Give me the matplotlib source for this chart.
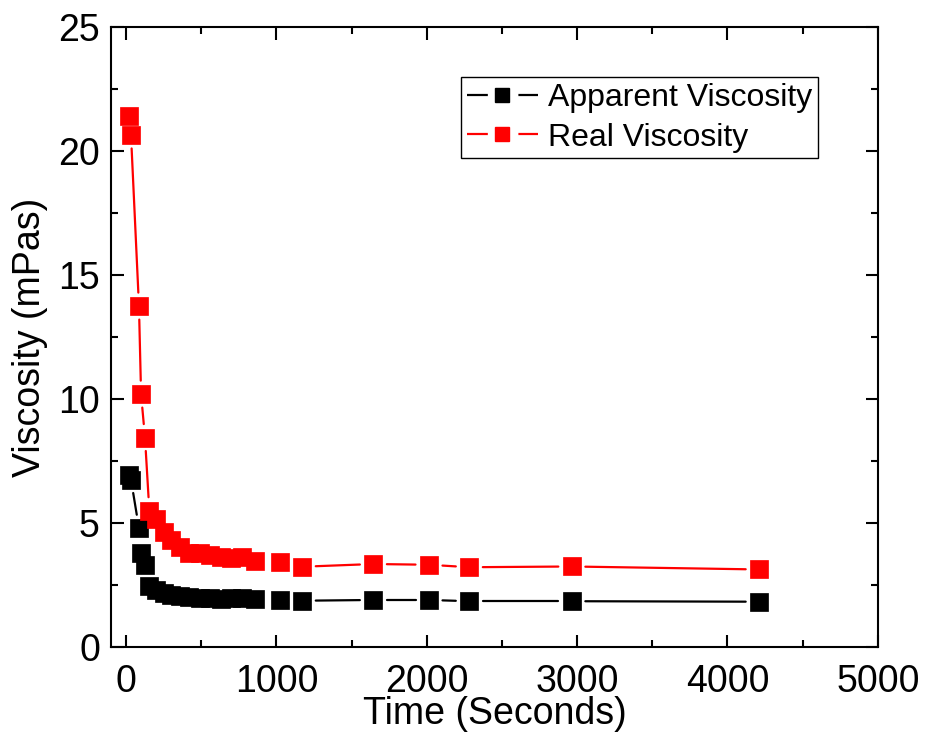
import numpy as np
from matplotlib import pyplot as plt
from matplotlib.lines import Line2D
from matplotlib.ticker import MultipleLocator

plt.rcParams['font.family'] = ['Liberation Sans', 'DejaVu Sans']
plt.rcParams['lines.scale_dashes'] = False

# time in seconds
time_s = [20, 33, 86, 100, 126, 155, 200, 250, 300, 360, 420, 490, 560,
          630, 700, 770, 860, 1025, 1172, 1645, 2015, 2283, 2965, 4211]
apparent = [6.95, 6.75, 4.8, 3.8, 3.32, 2.46, 2.3, 2.18, 2.1, 2.04, 2.0, 1.98,
            1.96, 1.95, 1.97, 1.96, 1.92, 1.9, 1.87, 1.9, 1.9, 1.85, 1.85, 1.83]
real = [21.4, 20.65, 13.75, 10.2, 8.45, 5.5, 5.15, 4.65, 4.3, 4.05, 3.8, 3.78,
        3.7, 3.62, 3.6, 3.62, 3.47, 3.43, 3.24, 3.35, 3.32, 3.22, 3.25, 3.13]

fig = plt.figure(figsize=(9.25, 7.32), dpi=100)
ax = fig.add_axes([0.12, 0.116, 0.829, 0.847])
ax.set_xlim(-100, 5000)
ax.set_ylim(0, 25)


def gapped_line(x, y, color, gap=13.5):
    # Origin style: segments stop short of the markers
    pts = ax.transData.transform(np.column_stack([x, y]))
    inv = ax.transData.inverted()
    for p0, p1 in zip(pts[:-1], pts[1:]):
        d = p1 - p0
        L = np.hypot(*d)
        if L <= 2 * gap + 1:
            continue
        u = d / L
        a, b = inv.transform(np.array([p0 + u * gap, p1 - u * gap]))
        ax.plot([a[0], b[0]], [a[1], b[1]], color=color, lw=1.6,
                solid_capstyle='round', zorder=2)


for vals, col in [(apparent, 'black'), (real, 'red')]:
    gapped_line(time_s, vals, col)
    ax.plot(time_s, vals, ls='none', marker='s', ms=12.5, color=col, mec=col,
            mew=0.5, zorder=3)

ax.xaxis.set_major_locator(MultipleLocator(1000))
ax.xaxis.set_minor_locator(MultipleLocator(500))
ax.yaxis.set_major_locator(MultipleLocator(5))
ax.yaxis.set_minor_locator(MultipleLocator(2.5))
ax.tick_params(which='both', direction='in', top=True, right=True, width=1.5,
               labelsize=27)
ax.tick_params(which='major', length=9)
ax.tick_params(which='minor', length=5)
ax.tick_params(axis='x', which='major', pad=12)
ax.tick_params(axis='y', which='major', pad=8)
for s in ax.spines.values():
    s.set_linewidth(1.5)

ax.set_xlabel('Time (Seconds)', fontsize=27, labelpad=-2.5)
ax.set_ylabel('Viscosity (mPas)', fontsize=27, labelpad=7)

dash = (0, (15, 22, 15, 200))
handles = [Line2D([], [], color='black', lw=1.6, ls=dash, marker='s', ms=10),
           Line2D([], [], color='red', lw=1.6, ls=dash, marker='s', ms=10)]
leg = ax.legend(handles, ['Apparent Viscosity', 'Real Viscosity'],
                loc='upper right', bbox_to_anchor=(0.922, 0.919),
                borderaxespad=0, fontsize=23, handlelength=2.25,
                handletextpad=0.3, labelspacing=0.3, borderpad=0.18,
                fancybox=False, edgecolor='black', framealpha=1)
leg.get_frame().set_linewidth(1.0)

fig.savefig('out.png', dpi=100)
